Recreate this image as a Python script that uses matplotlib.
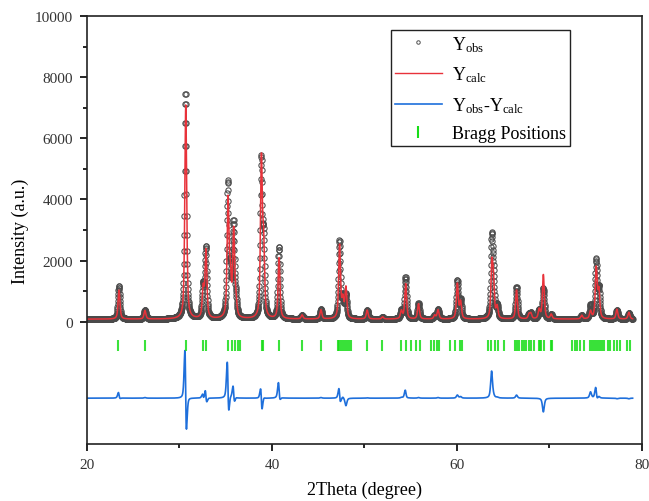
import numpy as np
import matplotlib
matplotlib.use('Agg')
import matplotlib.pyplot as plt
from matplotlib.lines import Line2D
from matplotlib.ticker import MultipleLocator, FixedLocator

plt.rcParams['font.family'] = ['Liberation Serif', 'DejaVu Serif']
plt.rcParams['mathtext.fontset'] = 'custom'
plt.rcParams['mathtext.rm'] = 'Liberation Serif'

peak_pos = [23.45, 26.27, 30.65, 32.55, 32.85, 35.22, 35.5, 35.85, 36.1, 38.85,
            39.1, 40.75, 43.26, 45.3, 47.3, 47.67, 48.0, 50.3, 51.97, 54.0,
            54.45, 55.85, 57.6, 57.96, 60.05, 60.4, 63.77, 63.95, 64.35, 66.45,
            67.8, 68.0, 68.9, 69.35, 70.2, 73.5, 74.45, 75.05, 75.35, 77.3, 78.6]
obs_height = [1080, 300, 7400, 1000, 2300, 4350, 1300, 3000, 500, 5050,
              2300, 2350, 130, 320, 2550, 650, 750, 300, 70, 280,
              1380, 520, 120, 320, 1250, 600, 2500, 1150, 400, 1050,
              150, 170, 300, 1000, 150, 120, 450, 1900, 950, 300, 200]
calc_height = [950, 280, 7000, 950, 2200, 3800, 1250, 2800, 480, 5100,
               2250, 2000, 130, 300, 2400, 600, 1000, 290, 70, 260,
               1150, 500, 120, 300, 1150, 550, 1650, 1100, 380, 950,
               150, 170, 300, 1450, 150, 120, 250, 1650, 900, 320, 220]
calc_shift = [0.015, 0.0, 0.033, 0.015, 0.015, 0.035, 0.0, 0.015, 0.0, 0.012,
              0.0, 0.02, 0.0, 0.0, 0.015, 0.0, 0.0, 0.0, 0.0, 0.0,
              0.01, 0.0, 0.0, 0.0, 0.0, 0.0, 0.01, 0.0, 0.0, 0.0,
              0.0, 0.0, 0.0, 0.0, 0.0, 0.0, 0.0, 0.015, 0.0, 0.0, 0.0]
background = 85
fwhm = 0.24
diff_offset = -2500

bragg = [23.37, 26.3, 30.72, 32.6, 32.9, 35.2, 35.7, 36.0, 36.3, 36.6,
         38.9, 39.0, 40.75, 43.3, 45.3, 47.1, 47.3, 47.5, 47.7, 47.9,
         48.1, 48.3, 48.5, 50.3, 51.9, 53.95, 54.45, 55.0, 55.6, 56.0,
         57.2, 57.5, 57.8, 58.1, 59.3, 59.75, 60.3, 60.6, 63.4, 63.7,
         64.1, 64.4, 65.1, 66.27, 66.49, 66.74, 66.99, 67.28, 67.46, 67.82,
         68.0, 68.35, 68.89, 69.0, 69.14, 69.43, 70.14, 70.32, 72.47, 72.72,
         73.01, 73.3, 73.73, 74.34, 74.62, 74.87, 75.09, 75.24, 75.45, 75.7,
         75.95, 76.31, 76.6, 76.96, 77.31, 77.67, 78.39, 78.68]


def pseudo_voigt(x, pos, w, eta=0.6):
    u = (x - pos) / w
    return eta / (1 + 4 * u ** 2) + (1 - eta) * np.exp(-4 * np.log(2) * u ** 2)


tt = np.arange(20, 79.001, 0.02)
y_obs = np.full_like(tt, background, dtype=float)
y_calc = np.full_like(tt, background, dtype=float)
for p, ho, hc, s in zip(peak_pos, obs_height, calc_height, calc_shift):
    y_obs += ho * pseudo_voigt(tt, p, fwhm)
    y_calc += hc * pseudo_voigt(tt, p + s, fwhm)
y_diff = y_obs - y_calc + diff_offset

fig = plt.figure(figsize=(6.49, 5.02), dpi=100)
ax = fig.add_axes([0.134, 0.1135, 0.855, 0.8525])

ax.plot(tt, y_obs, 'o', ms=3.8, mfc='none', mec='#4a4a4a', mew=0.75)
ax.plot(tt, y_calc, color='#e8323a', lw=1.1)
ax.plot(tt, y_diff, color='#1e6fdb', lw=1.2)
ax.vlines(bragg, -950, -600, color='#18dd18', lw=1.5, alpha=0.85)

ax.set_xlim(20, 80)
ax.set_ylim(-4000, 10000)
ax.xaxis.set_major_locator(MultipleLocator(20))
ax.xaxis.set_minor_locator(MultipleLocator(10))
ax.yaxis.set_major_locator(FixedLocator(range(0, 10001, 2000)))
ax.yaxis.set_minor_locator(FixedLocator(range(1000, 10000, 2000)))
ax.tick_params(which='major', length=5, width=1.2, pad=5, labelsize=11, labelcolor='#333333')
ax.tick_params(which='minor', length=3, width=1.2)
for sp in ax.spines.values():
    sp.set_linewidth(1.2)
    sp.set_color('#222222')

ax.set_xlabel('2Theta (degree)', fontsize=13, labelpad=7)
ax.set_ylabel('Intensity (a.u.)', fontsize=13)

handles = [
    Line2D([], [], ls='none', marker='o', ms=2.5, mfc='none', mec='#505050', mew=0.7),
    Line2D([], [], color='#e8323a', lw=1.0),
    Line2D([], [], color='#1e6fdb', lw=1.2),
    Line2D([], [], ls='none', marker='|', ms=9, mec='#18dd18', mew=1.5),
]
labels = [r'$\mathrm{Y_{obs}}$', r'$\mathrm{Y_{calc}}$',
          r'$\mathrm{Y_{obs}}$-$\mathrm{Y_{calc}}$', 'Bragg Positions']
leg = ax.legend(handles, labels, loc='upper left', bbox_to_anchor=(0.548, 0.967),
                borderaxespad=0, fontsize=13, fancybox=False, edgecolor='#222222',
                framealpha=1, handlelength=2.6, handletextpad=0.6, labelspacing=0.6,
                borderpad=0.2, numpoints=1)
leg.get_frame().set_linewidth(1.0)

fig.savefig('out.png', dpi=100)
